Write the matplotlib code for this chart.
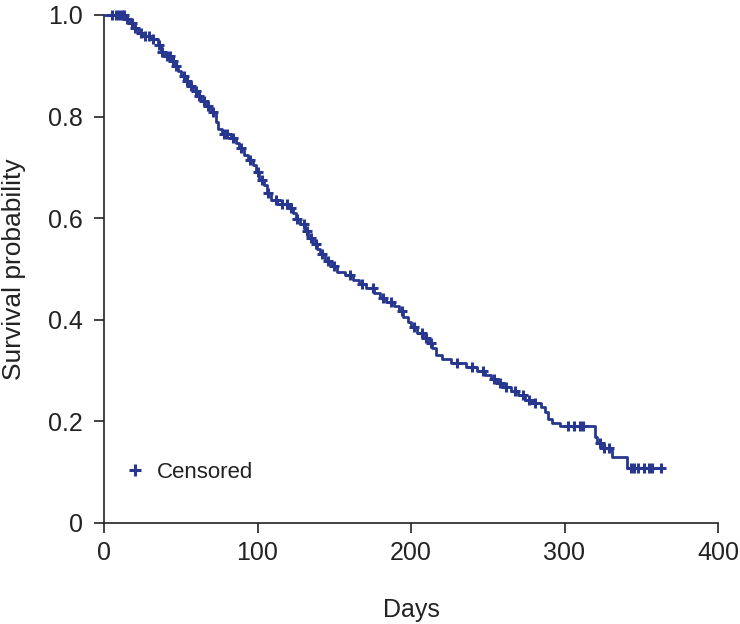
import numpy as np
import matplotlib
matplotlib.use("Agg")
import matplotlib.pyplot as plt
from matplotlib.lines import Line2D

# Step points of the Kaplan-Meier estimate (day, survival after the step)
event_days = [0, 14, 17, 19, 22, 25, 30, 35, 37, 40, 44, 46, 48, 50, 53, 55, 58, 61, 63,
              67, 70, 73, 74, 77, 83, 86, 88, 91, 94, 97, 99, 101, 104, 106, 109, 113,
              120, 123, 125, 128, 131, 133, 136, 139, 141, 144, 148, 152, 157, 162, 166,
              171, 176, 180, 184, 189, 192, 195, 198, 200, 204, 209, 212, 214, 216, 220,
              226, 236, 243, 248, 252, 256, 260, 265, 270, 274, 278, 285, 287, 289, 292,
              297, 320, 321, 324, 331, 341]
survival = [1.0, 0.993, 0.985, 0.975, 0.965, 0.958, 0.952, 0.94, 0.928, 0.92, 0.91, 0.90,
            0.89, 0.88, 0.87, 0.86, 0.85, 0.84, 0.83, 0.82, 0.81, 0.79, 0.775, 0.765, 0.757,
            0.748, 0.738, 0.725, 0.715, 0.705, 0.69, 0.675, 0.665, 0.65, 0.635, 0.628, 0.62,
            0.61, 0.598, 0.588, 0.575, 0.562, 0.55, 0.54, 0.53, 0.515, 0.505, 0.495, 0.488,
            0.478, 0.47, 0.462, 0.452, 0.442, 0.435, 0.428, 0.418, 0.405, 0.395, 0.385,
            0.375, 0.365, 0.355, 0.345, 0.33, 0.322, 0.315, 0.308, 0.30, 0.292, 0.283,
            0.275, 0.268, 0.26, 0.252, 0.243, 0.236, 0.228, 0.218, 0.205, 0.197, 0.19,
            0.17, 0.158, 0.148, 0.13, 0.108]
end_day = 363

# Censoring times
censor_days = [5, 8, 10, 12, 13, 15, 18, 20, 24, 27, 29, 32, 36, 38, 41, 43, 45, 47, 52,
               54, 57, 60, 62, 65, 68, 71, 78, 80, 84, 89, 95, 100, 103, 107, 112, 116,
               119, 122, 126, 130, 132, 135, 138, 142, 146, 150, 160, 168, 175, 182, 187,
               194, 202, 207, 210, 213, 230, 240, 247, 254, 258, 262, 268, 273, 277, 281,
               302, 306, 310, 312, 323, 326, 329, 343, 345, 348, 352, 355, 357, 363]

x_ticks = [0, 100, 200, 300, 400]
y_ticks = [0, 0.2, 0.4, 0.6, 0.8, 1.0]
y_tick_labels = ["0", "0.2", "0.4", "0.6", "0.8", "1.0"]

color = "#27378f"
plt.rcParams["font.family"] = ["Liberation Sans", "DejaVu Sans"]

fig = plt.figure(figsize=(7.4, 6.24), dpi=100)
ax = fig.add_axes([104 / 740, 101 / 624, 614 / 740, 508 / 624])

xs = list(event_days) + [end_day]
ys = list(survival) + [survival[-1]]
ax.step(xs, ys, where="post", color=color, lw=2.0, clip_on=False, zorder=3)

cidx = np.searchsorted(event_days, censor_days, side="right") - 1
cys = np.array(survival)[cidx]
ax.plot(censor_days, cys, ls="none", marker="+", ms=7.5, mew=2.2, color=color,
        clip_on=False, zorder=4)

ax.set_xlim(0, 400)
ax.set_ylim(0, 1.0)
ax.set_xticks(x_ticks)
ax.set_xticklabels([str(t) for t in x_ticks])
ax.set_yticks(y_ticks)
ax.set_yticklabels(y_tick_labels)
for s in ["top", "right"]:
    ax.spines[s].set_visible(False)
for s in ["left", "bottom"]:
    ax.spines[s].set_linewidth(1.2)
    ax.spines[s].set_color("#222222")
ax.tick_params(direction="out", length=7, width=1.2, colors="#222222",
               labelsize=18, pad=6, labelcolor="#222222")
ax.tick_params(axis="y", pad=8)
ax.set_xlabel("Days", fontsize=18, color="#222222", labelpad=24)
ax.set_ylabel("Survival probability", fontsize=19, color="#222222", labelpad=16)

handle = Line2D([], [], ls="none", marker="+", ms=8, mew=2.2, color=color)
ax.legend([handle], ["Censored"], loc="lower left", bbox_to_anchor=(0.0, 0.04),
          frameon=False, fontsize=16, handlelength=1.0, handletextpad=0.5,
          labelcolor="#222222")

fig.savefig("out.png", dpi=100)
